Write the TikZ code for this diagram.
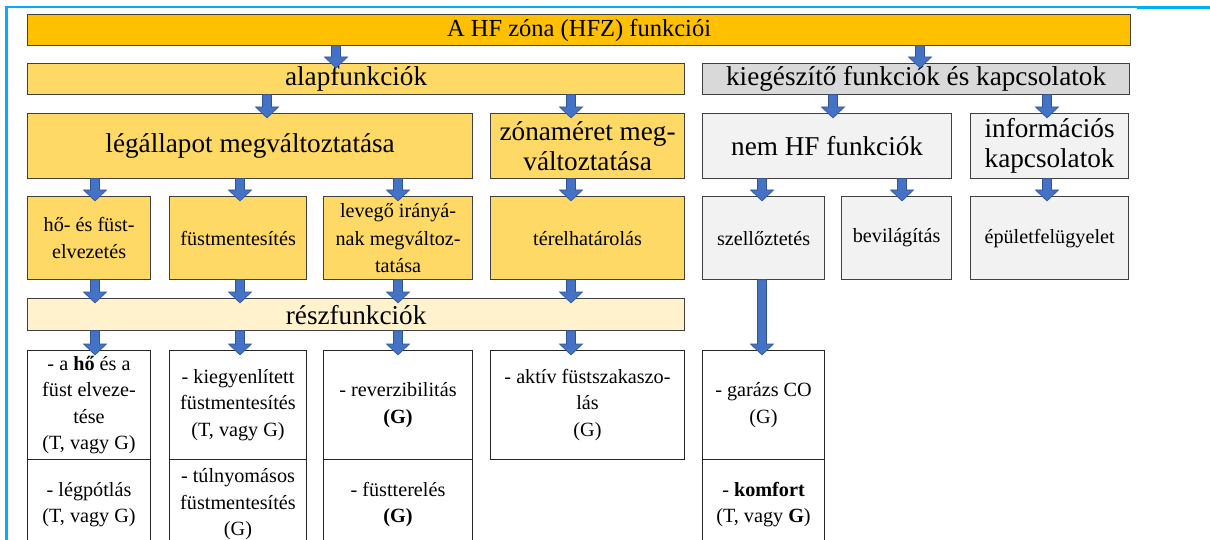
\documentclass[tikz,border=0pt]{standalone}
\usepackage{fontspec}
\setmainfont{Liberation Serif}
\usetikzlibrary{calc}
\definecolor{cTop}{HTML}{FFC000}
\definecolor{cGold}{HTML}{FFD966}
\definecolor{cPale}{HTML}{FFF2CC}
\definecolor{cGray}{HTML}{D9D9D9}
\definecolor{cLight}{HTML}{F2F2F2}
\definecolor{cBlue}{HTML}{4472C4}
\definecolor{cBlueD}{HTML}{2F5597}
\definecolor{cCyan}{HTML}{00B0F0}
\definecolor{cEdge}{HTML}{404040}
\tikzset{
  box/.style={draw=cEdge, line width=1.2pt, anchor=north west, inner sep=2pt, align=center, text=black},
  wbox/.style={box, draw=black!85, line width=1pt, fill=white, fSmall},
  fTop/.style={font=\fontsize{24.5}{28}\selectfont},
  fBig/.style={font=\fontsize{27.2}{30}\selectfont},
  fMid/.style={font=\fontsize{20.2}{27.5}\selectfont},
  fSmall/.style={font=\fontsize{20.2}{26.5}\selectfont},
  barrow/.style={fill=cBlue, draw=cBlueD, line width=0.6pt, line join=miter},
  frame/.style={draw=cCyan},
}
\newcommand\barr[3]{%
  \draw[barrow] let \p1=(#1.south -| #3), \p2=(#2.north -| #3) in
   (\x1-4.5pt,\y1+0.5pt) -- (\x1-4.5pt,\y2+6pt) -- (\x1-11.5pt,\y2+6pt) -- (\x1,\y2-5pt)
   -- (\x1+11.5pt,\y2+6pt) -- (\x1+4.5pt,\y2+6pt) -- (\x1+4.5pt,\y1+0.5pt) -- cycle;}
\begin{document}
\begin{tikzpicture}[x=1pt,y=-1pt]
\useasboundingbox (0,0) rectangle (1210,540);
\clip (0,0) rectangle (1210,540);
\fill[white] (0,0) rectangle (1210,540);
% frame
\draw[frame, line width=3pt] (6.5,6) -- (6.5,541);
\draw[frame, line width=2pt] (5,7) -- (1137,7);
\draw[frame, line width=3pt] (1137,7.5) -- (1211,7.5);
% column x positions
\coordinate (xa) at (336,0);
\coordinate (xb) at (920,0);
\coordinate (xc) at (267,0);
\coordinate (xd) at (833,0);
\coordinate (x1) at (95,0);
\coordinate (x2) at (240,0);
\coordinate (x3) at (398,0);
\coordinate (x4) at (571,0);
\coordinate (x5) at (762,0);
\coordinate (x6) at (902,0);
\coordinate (x7) at (1047,0);
% level 0
\node[box, fill=cTop, fTop, minimum width=1103pt, minimum height=31pt] (top) at (27,14) {A HF zóna (HFZ) funkciói};
% level 1
\node[box, fill=cGold, fBig, minimum width=657pt, minimum height=31pt] (alap) at (27,63) {alapfunkciók};
\node[box, fill=cGray, fBig, minimum width=427pt, minimum height=31pt] (kieg) at (702,63) {kiegészítő funkciók és kapcsolatok};
% level 2
\node[box, fill=cGold, fBig, minimum width=445pt, minimum height=65pt] (leg) at (27,113) {légállapot megváltoztatása};
\node[box, fill=cGold, fBig, minimum width=194pt, minimum height=65pt] (zona) at (490,113) {zónaméret meg-\\változtatása};
\node[box, fill=cLight, fBig, minimum width=249pt, minimum height=65pt] (nemhf) at (702,113) {nem HF funkciók};
\node[box, fill=cLight, fBig, minimum width=158pt, minimum height=65pt] (info) at (970,113) {információs\\kapcsolatok};
% level 3
\node[box, fill=cGold, fMid, minimum width=123pt, minimum height=83pt] (r1) at (27,196) {hő- és füst-\\elvezetés};
\node[box, fill=cGold, fMid, minimum width=137pt, minimum height=83pt] (r2) at (169,196) {füstmentesítés};
\node[box, fill=cGold, fMid, minimum width=149pt, minimum height=83pt] (r3) at (323,196) {levegő irányá-\\nak megváltoz-\\tatása};
\node[box, fill=cGold, fMid, minimum width=194pt, minimum height=83pt] (r4) at (490,196) {térelhatárolás};
\node[box, fill=cLight, fMid, minimum width=122pt, minimum height=83pt] (r5) at (702,196) {szellőztetés};
\node[box, fill=cLight, fMid, minimum width=110pt, minimum height=83pt] (r6) at (841,196) {bevilágítás};
\node[box, fill=cLight, fMid, minimum width=158pt, minimum height=83pt] (r7) at (970,196) {épületfelügyelet};
% részfunkciók
\node[box, fill=cPale, fBig, minimum width=657pt, minimum height=32pt] (resz) at (27,298) {részfunkciók};
% level 4
\node[wbox, minimum width=123pt, minimum height=109pt] (a1) at (27,350) {- a \textbf{hő} és a\\füst elveze-\\tése\\(T, vagy G)};
\node[wbox, minimum width=137pt, minimum height=109pt] (a2) at (169,350) {- kiegyenlített\\füstmentesítés\\(T, vagy G)};
\node[wbox, minimum width=149pt, minimum height=109pt] (a3) at (323,350) {- reverzibilitás\\\textbf{(G)}};
\node[wbox, minimum width=194pt, minimum height=109pt] (a4) at (490,350) {- aktív füstszakaszo-\\lás\\(G)};
\node[wbox, minimum width=122pt, minimum height=109pt] (a5) at (702,350) {- garázs CO\\(G)};
\node[wbox, minimum width=123pt, minimum height=90pt] (b1) at (27,459) {- légpótlás\\(T, vagy G)};
\node[wbox, minimum width=137pt, minimum height=90pt] (b2) at (169,459) {- túlnyomásos\\füstmentesítés\\(G)};
\node[wbox, minimum width=149pt, minimum height=90pt] (b3) at (323,459) {- füstterelés\\\textbf{(G)}};
\node[wbox, minimum width=122pt, minimum height=90pt] (b5) at (702,459) {- \textbf{komfort}\\(T, vagy \textbf{G})};
% arrows
\barr{top}{alap}{xa}
\barr{top}{kieg}{xb}
\barr{alap}{leg}{xc}
\barr{alap}{zona}{x4}
\barr{kieg}{nemhf}{xd}
\barr{kieg}{info}{x7}
\barr{leg}{r1}{x1}
\barr{leg}{r2}{x2}
\barr{leg}{r3}{x3}
\barr{zona}{r4}{x4}
\barr{nemhf}{r5}{x5}
\barr{nemhf}{r6}{x6}
\barr{info}{r7}{x7}
\barr{r1}{resz}{x1}
\barr{r2}{resz}{x2}
\barr{r3}{resz}{x3}
\barr{r4}{resz}{x4}
\barr{resz}{a1}{x1}
\barr{resz}{a2}{x2}
\barr{resz}{a3}{x3}
\barr{resz}{a4}{x4}
\barr{r5}{a5}{x5}
\end{tikzpicture}
\end{document}
